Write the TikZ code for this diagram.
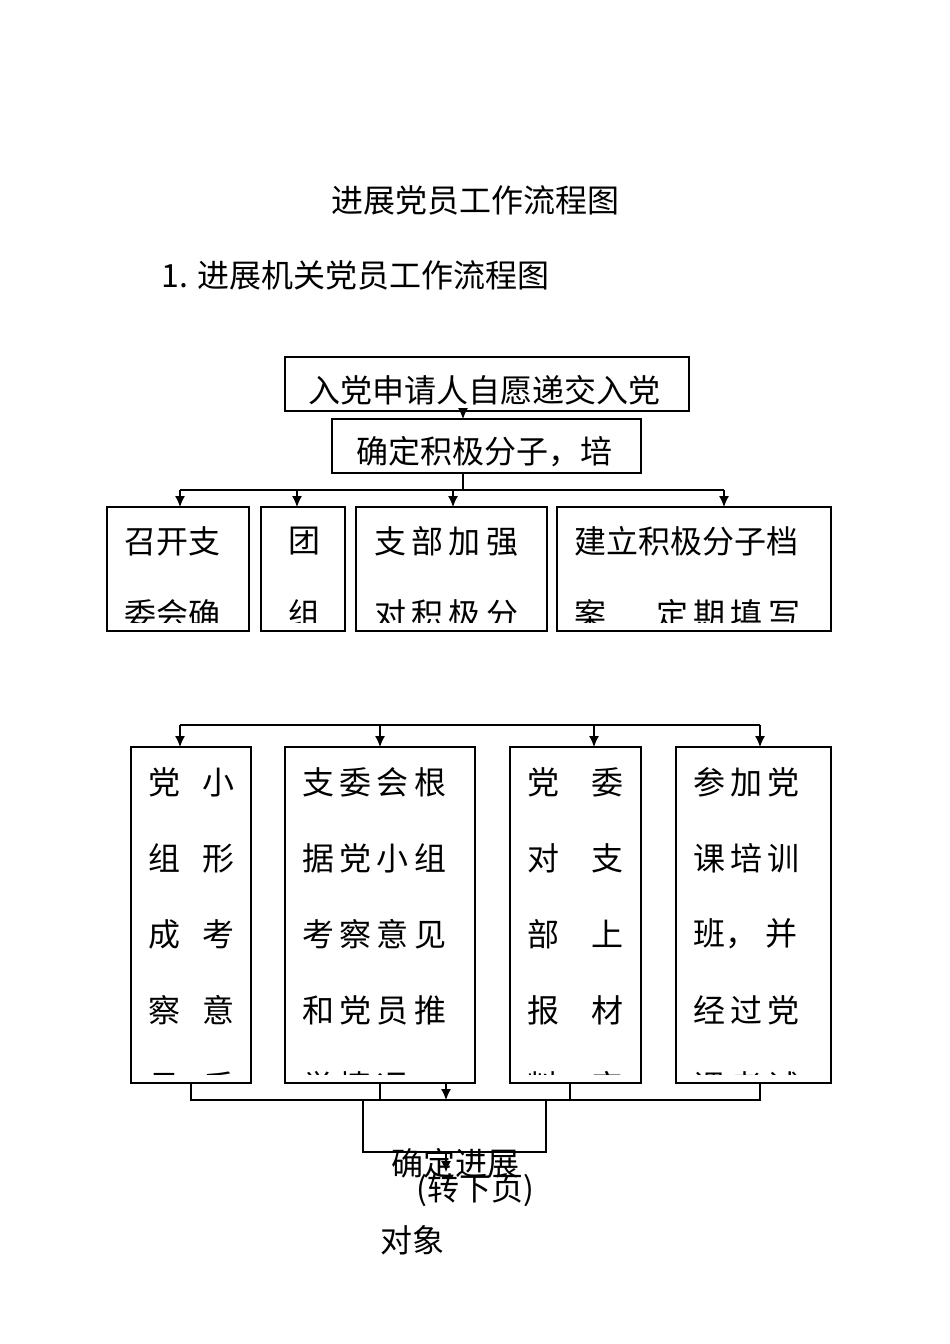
\documentclass[tikz,border=0pt]{standalone}
\usepackage{fontspec}
\usetikzlibrary{arrows.meta}
\setmainfont{Noto Sans CJK SC}
\newfontfamily\cjk{Noto Sans CJK SC}
\begin{document}
\begin{tikzpicture}[x=1pt,y=-1pt,
  bx/.style={draw,line width=1.3pt},
  ln/.style={line width=1.1pt},
  ar/.style={ln,-{Latex[length=11pt,width=10pt]}},
  tx/.style={inner sep=0pt,font=\fontsize{32}{32}\selectfont},
  ]
\useasboundingbox (0,0) rectangle (950,1344);
\node[font=\fontsize{32}{32}\selectfont] (title) at (475,200) {进展党员工作流程图};
\node[anchor=west,font=\fontsize{32}{32}\selectfont] (sub) at (158,275) {1. 进展机关党员工作流程图};
% box A
\draw[bx] (285,357) rectangle (689,411);
\begin{scope}\clip (287,359) rectangle (667,409);
\node[tx,anchor=west] (ta) at (308,390) {入党申请人自愿递交入党};
\end{scope}
\coordinate (Ab) at (463,411);
\draw[bx] (332,419) rectangle (641,473);
\coordinate (Bt) at (463,419);
\draw[ar] (Ab) -- (Bt);
\node[tx,anchor=west] (tb) at (356,452) {确定积极分子，培};
\coordinate (Bb) at (463,473);
\coordinate (J1) at (463,490);
\draw[ln] (Bb) -- (J1);
\draw[ln] (180,490) -- (724,490);
\foreach \x in {180,297,453,724} \draw[ar] (\x,490) -- (\x,507);
% row 1
\draw[bx] (107,507) rectangle (249,631);
\draw[bx] (261,507) rectangle (345,631);
\draw[bx] (356,507) rectangle (547,631);
\draw[bx] (557,507) rectangle (831,631);
\begin{scope}\clip (100,509) rectangle (840,622);
\node[tx,anchor=west] (c1) at (124,541) {召开支};
\node[tx,anchor=west] (c1b) at (124,614) {委会确};
\node[tx,anchor=west] (c2) at (288,541) {团};
\node[tx,anchor=west] (c2b) at (288,614) {组};
\node[tx,anchor=west] (c3) at (374,541) {支\,部\,加\,强};
\node[tx,anchor=west] (c3b) at (374,614) {对\,积\,极\,分};
\node[tx,anchor=west] (c4) at (574,541) {建立积极分子档};
\node[tx,anchor=west] (c4b) at (574,614) {案\hspace{50pt}定\,期\,填\,写};
\end{scope}
% row 2
\draw[ln] (180,725) -- (760,725);
\foreach \x in {180,380,594,760} \draw[ar] (\x,725) -- (\x,747);
\draw[bx] (131,747) rectangle (251,1083);
\draw[bx] (285,747) rectangle (475,1083);
\draw[bx] (510,747) rectangle (641,1083);
\draw[bx] (676,747) rectangle (831,1083);
\begin{scope}\clip (120,749) rectangle (840,1074);
\foreach \t [count=\i] in {党\hspace{22pt}小,组\hspace{22pt}形,成\hspace{22pt}考,察\hspace{22pt}意,见\hspace{22pt}后}
  \node[tx,anchor=west] at (148,706+76*\i) {\t};
\foreach \t [count=\i] in {支\,委\,会\,根,据\,党\,小\,组,考\,察\,意\,见,和\,党\,员\,推,举\,情\,况}
  \node[tx,anchor=west] at (302,706+76*\i) {\t};
\foreach \t [count=\i] in {党\hspace{32pt}委,对\hspace{32pt}支,部\hspace{32pt}上,报\hspace{32pt}材,料\hspace{32pt}审}
  \node[tx,anchor=west] at (527,706+76*\i) {\t};
\foreach \t [count=\i] in {参\,加\,党,课\,培\,训,班，\hspace{8pt}并,经\,过\,党,课\,考\,试}
  \node[tx,anchor=west] at (693,706+76*\i) {\t};
\end{scope}
% merge
\draw[ln] (191,1083) -- (191,1100) -- (760,1100) -- (760,1083);
\draw[ln] (380,1083) -- (380,1100);
\draw[ln] (570,1083) -- (570,1100);
\draw[ar] (446,1083) -- (446,1100);
\draw[bx] (363,1100) rectangle (546,1152);
\draw[ar] (446,1152) -- (446,1172);
\node[tx] (e1) at (455,1163) {确定进展};
\node[tx] (e2) at (475,1190) {(转下页)};
\node[tx] (e3) at (412,1240) {对象};
\end{tikzpicture}
\end{document}
